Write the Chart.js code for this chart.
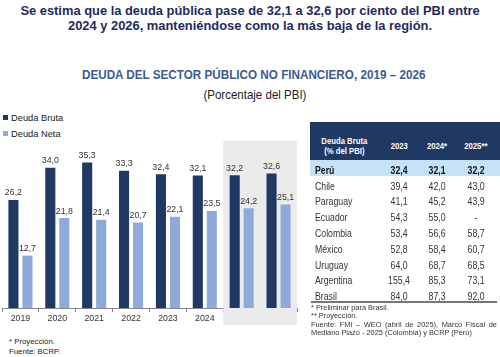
<!DOCTYPE html>
<html><head><meta charset="utf-8">
<script src="https://cdn.jsdelivr.net/npm/chart.js@4.4.1/dist/chart.umd.min.js"></script>
<style>
html,body{margin:0;padding:0;background:#fff;}
body{width:500px;height:357px;position:relative;overflow:hidden;font-family:"Liberation Sans",Arial,sans-serif;}
.abs{position:absolute;}
.sx{display:inline-block;white-space:nowrap;}
#title{left:0;top:3px;width:500px;text-align:center;font-weight:bold;font-size:12.9px;line-height:15px;color:#1f2b5e;}
#sub1{left:4px;top:66px;width:500px;text-align:center;font-weight:bold;font-size:13.6px;color:#3b5a91;line-height:18px;}
#sub1 .sx{transform:scaleX(0.86);}
#sub2{left:5px;top:86px;width:500px;text-align:center;font-size:13.4px;color:#222;line-height:18px;}
#sub2 .sx{transform:scaleX(0.86);}
.leg{left:3px;font-size:9.3px;color:#222;line-height:12px;}
.leg span{display:inline-block;width:5px;height:5px;margin-right:3px;vertical-align:1px;}
#chartwrap{left:0;top:130px;width:300px;height:200px;}
.fn{font-size:7.8px;color:#222;line-height:10px;}
#tbl{left:0;top:0;width:500px;height:357px;font-size:10.4px;color:#333;}
.cell{position:absolute;height:14px;line-height:14px;white-space:nowrap;}
.cell .sx{transform:scaleX(0.84);}
.cell.l .sx{transform-origin:left center;}
.cell.m{text-align:center;}
#tfn{left:311px;top:304px;width:186px;font-size:7.4px;line-height:8.4px;color:#333;text-align:justify;}
</style></head>
<body>
<div id="title" class="abs">Se estima que la deuda pública pase de 32,1 a 32,6 por ciento del PBI entre<br>2024 y 2026, manteniéndose como la más baja de la región.</div>
<div id="sub1" class="abs"><span class="sx">DEUDA DEL SECTOR PÚBLICO NO FINANCIERO, 2019 – 2026</span></div>
<div id="sub2" class="abs"><span class="sx">(Porcentaje del PBI)</span></div>
<div class="abs leg" style="top:112px"><span style="background:#1f3864"></span>Deuda Bruta</div>
<div class="abs leg" style="top:128px"><span style="background:#8eaadb"></span>Deuda Neta</div>
<div id="chartwrap" class="abs"><canvas id="c" width="300" height="200"></canvas></div>
<div class="abs fn" style="left:9px;top:337px">* Proyección.<br>Fuente: BCRP.</div>
<div id="tbl" class="abs"></div>
<div id="tfn" class="abs">* Preliminar para Brasil.<br>** Proyección.<br>Fuente: FMI – WEO (abril de 2025), Marco Fiscal de Mediano Plazo - 2025 (Colombia) y BCRP (Perú)</div>
<script>
const years = ['2019','2020','2021','2022','2023','2024','2025*','2026*'];
const deudaBruta = [26.2,34.0,35.3,33.3,32.4,32.1,32.2,32.6];
const deudaNeta = [12.7,21.8,21.4,20.7,22.1,23.5,24.2,25.1];
const projectedFrom = 6;

const tableHeaders = ['2023','2024*','2025**'];
const countries = ['Perú','Chile','Paraguay','Ecuador','Colombia','México','Uruguay','Argentina','Brasil'];
const debt2023 = [32.4,39.4,41.1,54.3,53.4,52.8,64.0,155.4,84.0];
const debt2024 = [32.1,42.0,45.2,55.0,56.6,58.4,68.7,85.3,87.3];
const debt2025 = [32.2,43.0,43.9,null,58.7,60.7,68.5,73.1,92.0];

const fmt = v => v == null ? '-' : v.toFixed(1).replace('.', ',');

// table built from the arrays
(function () {
  const t = document.getElementById('tbl');
  const X0 = 310, X1 = 500, HT = 122, HB = 160, ROW = 15.8;
  const colCx = [399, 437, 476];
  const cols = [debt2023, debt2024, debt2025];
  let h = '';
  h += `<div class="abs" style="left:${X0}px;top:${HT}px;width:${X1 - X0}px;height:${HB - HT}px;background:#1f3864"></div>`;
  h += `<div class="abs" style="left:${X0}px;top:${HB}px;width:${X1 - X0}px;height:16px;background:#c6e2f7"></div>`;
  h += `<div class="cell m" style="left:314px;width:60px;top:136px;color:#fff;font-weight:bold;font-size:9.2px;line-height:10px;height:20px"><span class="sx" style="text-align:center">Deuda Bruta<br>(% del PBI)</span></div>`;
  tableHeaders.forEach((hd, j) => {
    h += `<div class="cell m" style="left:${colCx[j] - 20}px;width:40px;top:139px;color:#fff;font-weight:bold;font-size:9.2px"><span class="sx">${hd}</span></div>`;
  });
  countries.forEach((c, i) => {
    const cy = 170.7 + i * ROW;
    const bold = i === 0 ? 'font-weight:bold;color:#111;' : '';
    h += `<div class="cell l" style="left:315px;top:${cy - 7}px;${bold}"><span class="sx">${c}</span></div>`;
    cols.forEach((arr, j) => {
      h += `<div class="cell m" style="left:${colCx[j] - 20}px;width:40px;top:${cy - 7}px;${bold}"><span class="sx">${fmt(arr[i])}</span></div>`;
    });
  });
  h += `<div class="abs" style="left:311px;top:301px;width:186px;height:1.5px;background:#777"></div>`;
  t.innerHTML = h;
})();

const shade = {
  id: 'shade',
  beforeDatasetsDraw(chart) {
    const {ctx, chartArea, scales: {x, y}} = chart;
    const half = (x.getPixelForValue(1) - x.getPixelForValue(0)) / 2;
    const left = x.getPixelForValue(projectedFrom) - half;
    const right = chartArea.right;
    const top = y.getPixelForValue(40.5);
    const bottom = chartArea.bottom + 17;
    ctx.save();
    ctx.fillStyle = '#ebebeb';
    ctx.fillRect(left, top, right - left, bottom - top);
    ctx.restore();
  }
};
const labels = {
  id: 'labels',
  afterDatasetsDraw(chart) {
    const {ctx} = chart;
    ctx.save();
    ctx.font = '8.8px "Liberation Sans", Arial, sans-serif';
    ctx.fillStyle = '#333';
    ctx.textAlign = 'center';
    ctx.textBaseline = 'middle';
    chart.data.datasets.forEach((ds, di) => {
      chart.getDatasetMeta(di).data.forEach((bar, i) => {
        ctx.fillText(fmt(ds.data[i]), bar.x, bar.y - 7);
      });
    });
    ctx.restore();
  }
};

new Chart(document.getElementById('c'), {
  type: 'bar',
  data: {
    labels: years,
    datasets: [
      {label: 'Deuda Bruta', data: deudaBruta, backgroundColor: '#1f3864'},
      {label: 'Deuda Neta', data: deudaNeta, backgroundColor: '#8eaadb'}
    ]
  },
  options: {
    responsive: false,
    animation: false,
    devicePixelRatio: 1,
    categoryPercentage: 0.76,
    barPercentage: 0.72,
    layout: {padding: {left: 2, right: 3, top: 13, bottom: 0}},
    plugins: {legend: {display: false}, tooltip: {enabled: false}},
    scales: {
      y: {display: false, min: 0, max: 40},
      x: {
        afterFit: s => { s.height = 22; },
        grid: {drawOnChartArea: false, drawTicks: true, tickLength: 4, color: '#888'},
        border: {display: true, color: '#888'},
        ticks: {color: '#333', padding: 1, font: {size: 8.8, family: '"Liberation Sans", Arial, sans-serif'}, maxRotation: 0}
      }
    }
  },
  plugins: [shade, labels]
});
</script>
</body></html>
